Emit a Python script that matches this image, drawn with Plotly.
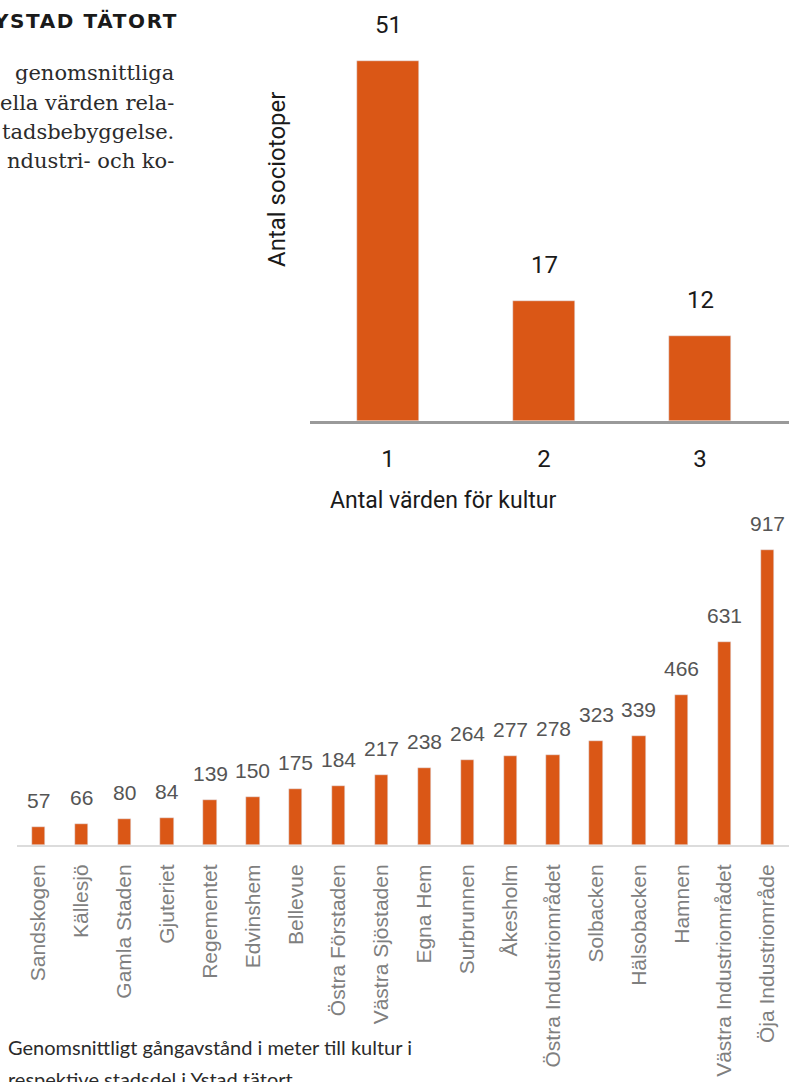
import plotly.graph_objects as go

# ---- data ----
top_categories = [1, 2, 3]
top_values = [51, 17, 12]

districts = ["Sandskogen", "Källesjö", "Gamla Staden", "Gjuteriet", "Regementet",
             "Edvinshem", "Bellevue", "Östra Förstaden", "Västra Sjöstaden", "Egna Hem",
             "Surbrunnen", "Åkesholm", "Östra Industriområdet", "Solbacken", "Hälsobacken",
             "Hamnen", "Västra Industriområdet", "Öja Industriområde"]
distances = [57, 66, 80, 84, 139, 150, 175, 184, 217, 238, 264, 277, 278, 323, 339, 466, 631, 917]

W, H = 789, 1082
ORANGE = "#DA5716"

def px(x):
    return x / W

def py(y):
    return 1 - y / H

fig = go.Figure()

fig.add_trace(go.Bar(x=top_categories, y=top_values, marker_color=ORANGE, width=0.4,
                     xaxis="x", yaxis="y", hoverinfo="skip"))
fig.add_trace(go.Bar(x=districts, y=distances, marker_color=ORANGE, width=0.31,
                     xaxis="x2", yaxis="y2", hoverinfo="skip"))

annotations = []
for c, v in zip(top_categories, top_values):
    annotations.append(dict(x=c, y=v, xref="x", yref="y", text=str(v), showarrow=False,
                            yanchor="bottom", yshift=20,
                            font=dict(family="Roboto", size=24, color="#1a1a1a")))
for c, v in zip(districts, distances):
    annotations.append(dict(x=c, y=v, xref="x2", yref="y2", text=str(v), showarrow=False,
                            yanchor="bottom", yshift=13,
                            font=dict(family="Liberation Sans", size=21, color="#555555")))

# axis titles for top chart
annotations.append(dict(x=px(328), y=py(500), xref="paper", yref="paper", xanchor="left",
                        yanchor="middle", text="Antal värden för kultur", showarrow=False,
                        font=dict(family="Roboto", size=23, color="#1a1a1a")))
annotations.append(dict(x=px(277), y=py(180), xref="paper", yref="paper", xanchor="center",
                        yanchor="middle", text="Antal sociotoper", textangle=-90, showarrow=False,
                        font=dict(family="Roboto", size=24, color="#1a1a1a")))

# page text around charts
annotations.append(dict(x=px(180), y=py(21), xref="paper", yref="paper", xanchor="right",
                        yanchor="middle",
                        text="<span style=\"letter-spacing:1.6px\"><b>YSTAD TÄTORT</b></span>",
                        showarrow=False,
                        font=dict(family="DejaVu Sans", size=20, color="#1a1a1a")))
body_lines = ["genomsnittliga", "ella värden rela-", "tadsbebyggelse.", "ndustri- och ko-"]
for i, line in enumerate(body_lines):
    annotations.append(dict(x=px(176), y=py(73 + 29.5 * i), xref="paper", yref="paper",
                            xanchor="right", yanchor="middle", text=line, showarrow=False,
                            font=dict(family="DejaVu Serif", size=21, color="#2b2b2b")))
caption_lines = ["Genomsnittligt gångavstånd i meter till kultur i",
                 "respektive stadsdel i Ystad tätort"]
for i, line in enumerate(caption_lines):
    annotations.append(dict(x=px(6), y=py(1047 + 32 * i), xref="paper", yref="paper",
                            xanchor="left", yanchor="middle", text=line, showarrow=False,
                            font=dict(family="Lato", size=20, color="#2b2b2b")))

fig.update_layout(
    width=W, height=H,
    margin=dict(l=0, r=0, t=0, b=0),
    paper_bgcolor="white", plot_bgcolor="white",
    showlegend=False,
    bargap=0,
    annotations=annotations,
    xaxis=dict(domain=[px(310), 1], range=[0.5, 3.57], tickvals=top_categories,
               ticktext=[str(c) for c in top_categories],
               tickfont=dict(family="Roboto", size=24, color="#1a1a1a"),
               showline=True, linecolor="#9a9a9a", linewidth=3,
               ticks="outside", ticklen=14, tickcolor="rgba(0,0,0,0)",
               showgrid=False, zeroline=False, anchor="y"),
    yaxis=dict(domain=[py(421), 1], range=[0, 421 / 7.05], showticklabels=False,
               showgrid=False, zeroline=False, showline=False, anchor="x"),
    xaxis2=dict(domain=[px(17), 1], range=[-0.5, 17.5], type="category",
                tickangle=-90,
                tickfont=dict(family="Liberation Sans", size=21, color="#7f7f7f"),
                showline=True, linecolor="#dcdcdc", linewidth=2,
                ticks="outside", ticklen=9, tickcolor="rgba(0,0,0,0)",
                showgrid=False, zeroline=False, anchor="y2"),
    yaxis2=dict(domain=[py(845), py(520)], range=[0, (845 - 520) / 0.322], showticklabels=False,
                showgrid=False, zeroline=False, showline=False, anchor="x2"),
)

fig.write_html("out.html",
               config={"displayModeBar": False},
               post_script="document.body.style.margin='0';document.body.style.overflow='hidden';")
